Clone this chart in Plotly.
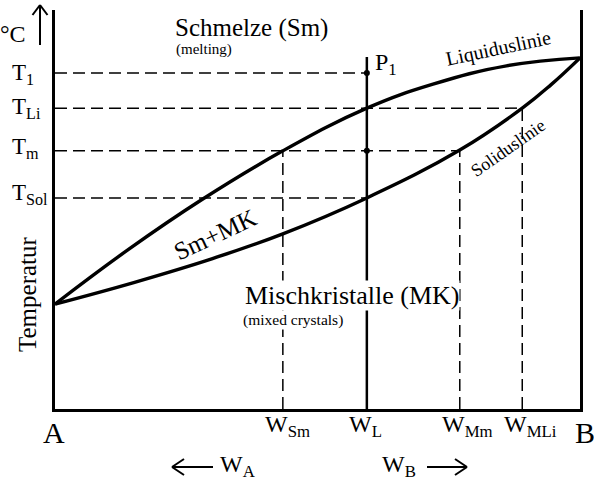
import plotly.graph_objects as go

# ---- data (composition in % B, temperature in arbitrary units) ----
liquidus_w = [0, 14, 28, 43.4, 59.4, 72, 86, 100]
liquidus_t = [26.3, 40.0, 52.5, 64.7, 75.4, 81.4, 86.0, 88.0]

solidus_w = [0, 15, 30, 43.4, 59.4, 77.1, 89.0, 94.5, 100]
solidus_t = [26.3, 31.7, 37.7, 43.9, 52.9, 64.9, 75.4, 81.3, 88.0]

temp_labels = ["T<sub>1</sub>", "T<sub>Li</sub>", "T<sub>m</sub>", "T<sub>Sol</sub>"]
temp_values = [84.2, 75.4, 64.7, 52.9]
temp_line_end = [59.4, 89.0, 77.1, 59.4]

comp_labels = ["W<sub>Sm</sub>", "W<sub>L</sub>", "W<sub>Mm</sub>", "W<sub>MLi</sub>"]
comp_values = [43.4, 59.4, 77.1, 89.0]
comp_line_top = [64.7, 88.2, 64.7, 75.4]

alloy_w = 59.4
alloy_points_t = [84.2, 64.7]

# ---- layout helpers (pixel -> paper) ----
W, H = 594, 480
L, R, T, B = 55, 14, 10, 71
PW, PH = W - L - R, H - T - B
TEMP_LABEL_SHIFT = [-1, 0, 3, 4]   # vertical pixel nudges of the T labels


def pxx(x):
    return (x - L) / PW


def pxy(y):
    return (H - B - y) / PH


FONT = "Liberation Serif"
fig = go.Figure()

# dashed horizontal temperature lines
for tv, xe in zip(temp_values, temp_line_end):
    fig.add_trace(go.Scatter(x=[0, xe], y=[tv, tv], mode="lines",
                             line=dict(color="black", width=1.5, dash="12px,6px"),
                             hoverinfo="skip", showlegend=False))

# vertical composition lines (W_L is the solid alloy line)
for wv, top, lab in zip(comp_values, comp_line_top, comp_labels):
    solid = lab == "W<sub>L</sub>"
    fig.add_trace(go.Scatter(x=[wv, wv], y=[0, top], mode="lines",
                             line=dict(color="black", width=2.5 if solid else 1.5,
                                       dash="solid" if solid else "12px,6px"),
                             hoverinfo="skip", showlegend=False))

# liquidus and solidus
fig.add_trace(go.Scatter(x=liquidus_w, y=liquidus_t, mode="lines",
                         line=dict(color="black", width=3.4, shape="spline", smoothing=1.2),
                         hoverinfo="skip", showlegend=False))
fig.add_trace(go.Scatter(x=solidus_w, y=solidus_t, mode="lines",
                         line=dict(color="black", width=3.4, shape="spline", smoothing=1.2),
                         hoverinfo="skip", showlegend=False))

# points on alloy line
fig.add_trace(go.Scatter(x=[alloy_w] * len(alloy_points_t), y=alloy_points_t, mode="markers",
                         marker=dict(color="black", size=6),
                         hoverinfo="skip", showlegend=False))

ann = []


def text(x, y, s, size, xref="paper", yref="paper", **kw):
    d = dict(x=x, y=y, xref=xref, yref=yref, text=s, showarrow=False,
             xanchor="center", yanchor="middle",
             font=dict(family=FONT, size=size, color="black"))
    d.update(kw)
    ann.append(d)


# temperature labels
for lab, tv, sh in zip(temp_labels, temp_values, TEMP_LABEL_SHIFT):
    text(pxx(10), tv, lab, 23, yref="y", xanchor="left", yshift=sh)

# composition labels
for lab, wv in zip(comp_labels, comp_values):
    text(wv, pxy(426), lab, 24, xref="x", xanchor="left", xshift=-20)

text(pxx(13), pxy(34), "°C", 24)
text(pxx(27), pxy(294), "Temperatur", 25, textangle=-90)
text(pxx(251), pxy(28), "Schmelze (Sm)", 25)
text(pxx(204), pxy(49), "(melting)", 15)
text(pxx(373), pxy(64), "P<sub>1</sub>", 24, xanchor="left")
text(pxx(498), pxy(48), "Liquiduslinie", 20, textangle=-12)
text(pxx(508), pxy(148), "Soliduslinie", 18, textangle=-35)
text(pxx(215), pxy(234), "Sm+MK", 25, textangle=-25)
text(pxx(352), pxy(295), "Mischkristalle (MK)", 26, bgcolor="white", borderpad=0)
text(pxx(293), pxy(320), "(mixed crystals)", 15.5, bgcolor="white", borderpad=0)
text(pxx(54), pxy(432), "A", 30)
text(pxx(585), pxy(432), "B", 30)
text(pxx(218), pxy(466), "W<sub>A</sub>", 24, xanchor="left")
text(pxx(380), pxy(466), "W<sub>B</sub>", 24, xanchor="left")


# arrows (decorative)
def seg(x0, y0, x1, y1, w=2):
    return dict(type="line", xref="paper", yref="paper",
                x0=pxx(x0), y0=pxy(y0), x1=pxx(x1), y1=pxy(y1),
                line=dict(color="black", width=w))


shapes = [
    seg(40, 45, 40, 5), seg(32.5, 15, 40, 5), seg(47.5, 15, 40, 5),
    seg(172, 467, 213, 467), seg(172, 467, 184, 459), seg(172, 467, 184, 475),
    seg(427, 467, 467, 467), seg(467, 467, 455, 459), seg(467, 467, 455, 475),
]

fig.update_layout(
    width=W, height=H,
    margin=dict(l=L, r=R, t=T, b=B),
    paper_bgcolor="white", plot_bgcolor="white",
    annotations=ann, shapes=shapes,
    xaxis=dict(range=[0, 100], showgrid=False, zeroline=False, showticklabels=False,
               ticks="", showline=True, linewidth=3, linecolor="black", mirror=False,
               fixedrange=True),
    yaxis=dict(range=[0, 100], showgrid=False, zeroline=False, showticklabels=False,
               ticks="", showline=True, linewidth=3, linecolor="black", mirror=True,
               fixedrange=True),
)

fig.write_html("out.html", config={"displayModeBar": False})
